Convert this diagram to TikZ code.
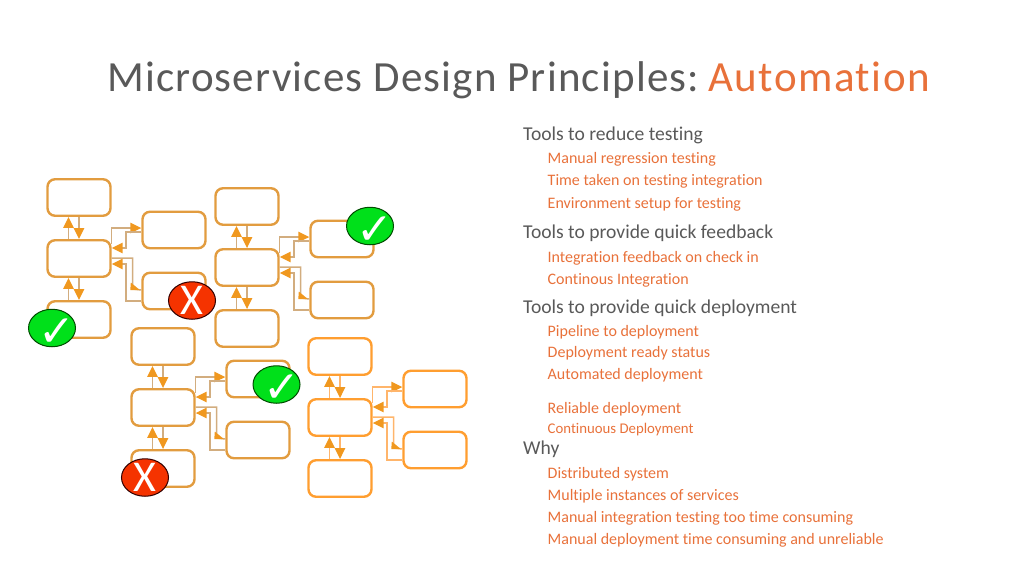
\documentclass[tikz,border=0pt]{standalone}
\usepackage{fontspec}
\setmainfont[Ligatures=NoCommon]{Carlito}
\newfontfamily\markfont{DejaVu Sans}
\newfontfamily\titlefont[LetterSpace=2.75,Ligatures=NoCommon]{Carlito}
\newfontfamily\titlefontb[LetterSpace=3.5,Ligatures=NoCommon]{Carlito}
\usetikzlibrary{arrows.meta,calc,shapes.geometric}
\definecolor{boxA}{HTML}{E29C3F}
\definecolor{boxB}{HTML}{FF9E30}
\definecolor{lineA}{HTML}{D2AD7F}
\definecolor{lineB}{HTML}{FFB56B}
\definecolor{tipc}{HTML}{F0981F}
\definecolor{headc}{HTML}{595959}
\definecolor{subc}{HTML}{E8713A}
\definecolor{goodc}{HTML}{00E01A}
\definecolor{badc}{HTML}{F53300}
\newcommand{\checkglyph}{\makebox[0pt]{\hspace{10pt}\smash{\raisebox{-0.42em}{✓}}}}
\newcommand{\crossglyph}{\makebox[0pt]{\smash{\raisebox{-0.31em}{X}}}}
\tikzset{
  box/.style={draw=#1,line width=2.4pt,rounded corners=7.5pt,minimum width=63pt,minimum height=36.5pt,inner sep=0pt,fill=white},
  link/.style={draw=#1,line width=1.5pt,-{Triangle[length=11pt,width=10.5pt,color=tipc]}},
  plain/.style={draw=#1,line width=1.5pt},
  tipshape/.style={fill=tipc,draw=none},
  head/.style={anchor=base west,inner sep=0pt,text=headc,font=\fontsize{19.6}{20}\selectfont},
  sub/.style={anchor=base west,inner sep=0pt,text=subc,font=\fontsize{16}{18}\selectfont},
  titlehead/.style={anchor=base west,inner sep=0pt,font=\titlefont\fontsize{43}{46}\selectfont},
  good/.style={ellipse,draw=black!70!green,line width=1pt,fill=goodc,minimum width=47pt,minimum height=37.5pt,inner sep=0pt,text=white,font=\markfont\bfseries\fontsize{44}{44}\selectfont},
  bad/.style={ellipse,draw=black!80!red,line width=1pt,fill=badc,minimum width=47pt,minimum height=37.5pt,inner sep=0pt,text=white,font=\fontsize{44}{44}\selectfont}
}
\newcommand{\cluster}[5]{%
  % name, dx, dy, box colour, line colour
  \begin{scope}[shift={(#2,#3)}]
    \node[box=#4] (#1t) at (79,197.5) {};
    \node[box=#4] (#1m) at (79,258.5) {};
    \node[box=#4] (#1b) at (79,319.5) {};
    \node[box=#4] (#1r) at (174,230) {};
    \node[box=#4] (#1s) at (174,291) {};
    \draw[link=#5] ([xshift=-10.5pt]#1m.north) -- ([xshift=-10.5pt]#1t.south);
    \draw[link=#5] (#1t.south) -- (#1m.north);
    \draw[link=#5] ([xshift=-10.5pt]#1b.north) -- ([xshift=-10.5pt]#1m.south);
    \draw[link=#5] (#1m.south) -- (#1b.north);
    \draw[link=#5] ([yshift=15pt]#1m.east) |- ([yshift=2pt]#1r.west);
    \draw[link=#5] ([yshift=-2pt]#1r.west) -| ++(-15.5pt,-16pt) -- ([yshift=10.5pt]#1m.east);
    \draw[plain=#5] ([yshift=0.5pt]#1m.east) -| ++(21pt,-31pt) -- ([yshift=1pt]#1s.west);
    \fill[tipshape] ($(#1s.west)+(-10.5pt,8.5pt)$) -- ($(#1s.west)+(-1.5pt,1pt)$) -- ($(#1s.west)+(-11pt,1pt)$) -- cycle;
    \draw[link=#5] ([yshift=-10pt]#1s.west) -| ++(-15.5pt,37pt) -- ([yshift=-5.5pt]#1m.east);
  \end{scope}}
\begin{document}
\begin{tikzpicture}[x=1pt,y=-1pt]
\useasboundingbox (0,0) rectangle (1024,576);
\node[titlehead,text=headc] (title) at (107,91) {Microservices Design Principles:};
\node[titlehead,text=subc,font=\titlefontb\fontsize{43}{46}\selectfont] (titleb) at (708,91) {Automation};
\cluster{a}{0}{0}{boxA}{lineA}
\cluster{c}{168}{9}{boxA}{lineA}
\cluster{e}{84}{149}{boxA}{lineA}
\cluster{g}{261}{159}{boxB}{lineB}
\node[good] (m1) at (52,328) {\checkglyph};
\node[bad] (m2) at (192,300.5) {\crossglyph};
\node[good] (m3) at (370,226) {\checkglyph};
\node[good] (m4) at (276.5,384.5) {\checkglyph};
\node[bad] (m5) at (145,477.5) {\crossglyph};
\node[head] (h1) at (523,140) {Tools to reduce testing};
\node[sub] (s1) at (547.5,163) {Manual regression testing};
\node[sub] (s2) at (547.5,185.5) {Time taken on testing integration};
\node[sub] (s3) at (547.5,208.5) {Environment setup for testing};
\node[head] (h2) at (523,238) {Tools to provide quick feedback};
\node[sub] (s4) at (547.5,262) {Integration feedback on check in};
\node[sub] (s5) at (547.5,284.5) {Continous Integration};
\node[head] (h3) at (523,313) {Tools to provide quick deployment};
\node[sub] (s6) at (547.5,336.5) {Pipeline to deployment};
\node[sub] (s7) at (547.5,357.5) {Deployment ready status};
\node[sub] (s8) at (547.5,379.5) {Automated deployment};
\node[sub] (s9) at (547.5,413.5) {Reliable deployment};
\node[sub,font=\fontsize{14.8}{16}\selectfont] (s10) at (547.5,433) {Continuous Deployment};
\node[head] (h4) at (523,454) {Why};
\node[sub] (s11) at (547.5,478.5) {Distributed system};
\node[sub] (s12) at (547.5,500.5) {Multiple instances of services};
\node[sub] (s13) at (547.5,522.5) {Manual integration testing too time consuming};
\node[sub] (s14) at (547.5,544.5) {Manual deployment time consuming and unreliable};
\end{tikzpicture}
\end{document}
